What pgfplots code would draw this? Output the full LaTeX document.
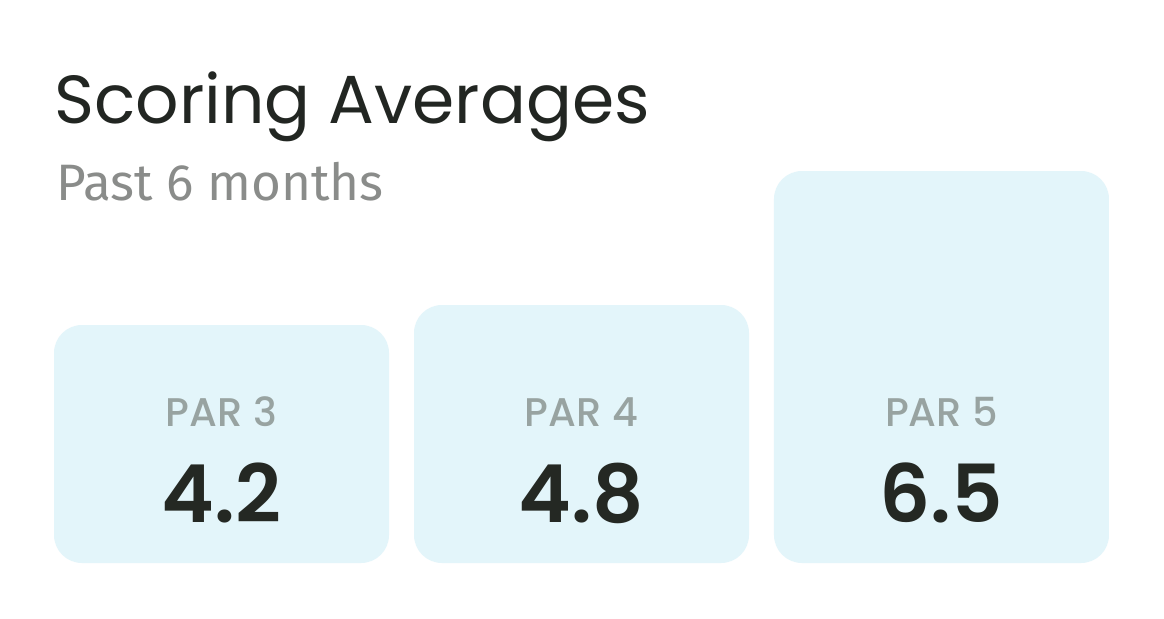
\documentclass[border=0pt]{standalone}
\usepackage{pgfplots}
\pgfplotsset{compat=1.18}
\usepackage{pgfplotstable}
\usepackage{fontspec}
\setmainfont{Poppins}
\newfontfamily\subfont{Fira Sans}
\newfontfamily\popmed{Poppins}[UprightFont=* Medium]
\newfontfamily\popsemi{Poppins}[UprightFont=* SemiBold]
\definecolor{titlec}{HTML}{222622}
\definecolor{subc}{HTML}{8A8C8A}
\definecolor{barc}{HTML}{E3F5FA}
\definecolor{labc}{HTML}{98A3A1}
\definecolor{numc}{HTML}{242823}
\pgfplotstableread{
x h val label ly vy
0 238 4.2 {PAR 3} 151 70
1 258 4.8 {PAR 4} 151 70
2 392 6.5 {PAR 5} 151 70
}\scores
\begin{document}
\begin{tikzpicture}
\fill[white] (0,0) rectangle (582pt,309pt);
\begin{axis}[
  at={(27pt,27.5pt)}, anchor=south west,
  scale only axis, width=527.5pt, height=196pt,
  xmin=-0.4653, xmax=2.4653, ymin=0, ymax=392,
  hide axis, clip=false,
]
\addplot[ybar, bar width=167.5pt, fill=barc, draw=none, rounded corners=14pt]
  table[x=x, y=h] {\scores};
\addplot[only marks, mark=none, point meta=explicit symbolic,
  nodes near coords, nodes near coords align=center,
  every node near coord/.append style={font=\popmed\fontsize{20}{24}\selectfont, text=labc, anchor=center}]
  table[x=x, y=ly, meta=label] {\scores};
\addplot[only marks, mark=none, point meta=explicit symbolic,
  nodes near coords, nodes near coords align=center,
  every node near coord/.append style={font=\popsemi\fontsize{40}{46}\selectfont, text=numc, anchor=center}]
  table[x=x, y=vy, meta=val] {\scores};
\end{axis}
\node[anchor=base west, inner sep=0pt, text=titlec, font=\fontsize{34}{40}\selectfont] at (27pt,247.5pt) {Scoring Averages};
\node[anchor=base west, inner sep=0pt, text=subc, font=\subfont\fontsize{25.6}{30}\selectfont] at (28pt,209pt) {Past 6 months};
\end{tikzpicture}
\end{document}
